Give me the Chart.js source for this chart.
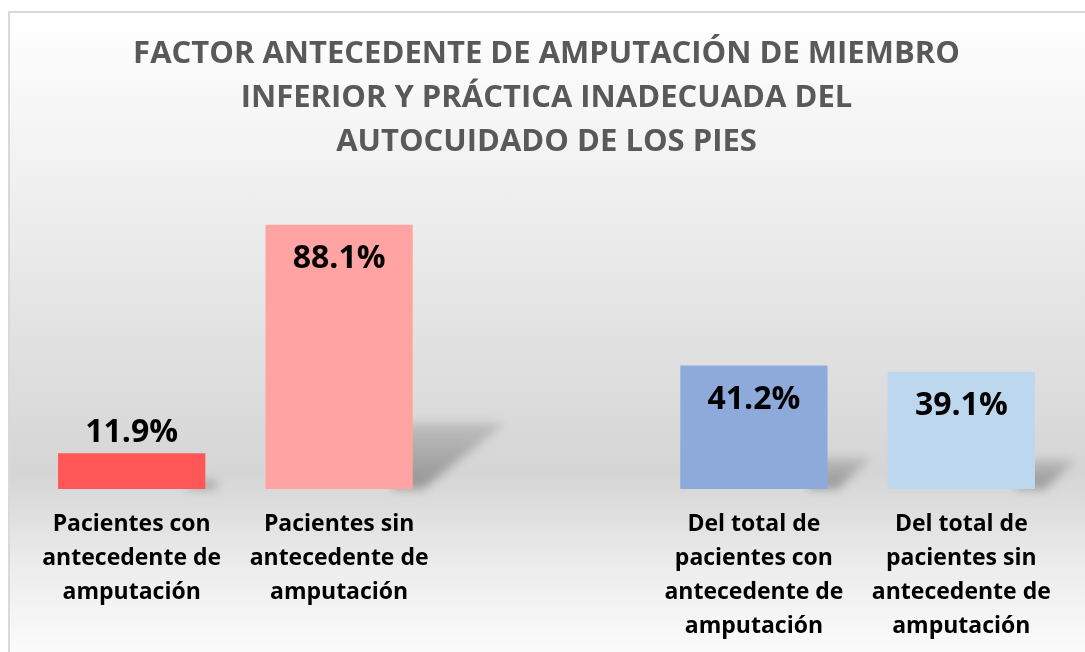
<!DOCTYPE html>
<html>
<head>
<meta charset="utf-8">
<script src="https://cdn.jsdelivr.net/npm/chart.js@4"></script>
<style>
  html, body { margin: 0; padding: 0; background: #fff; overflow: hidden; }
  .marco {
    position: absolute; left: 8px; top: 11px;
    width: 1085px; height: 650px;
    border: 2px solid #d9d9d9;
    background: linear-gradient(to bottom, #ffffff 0%, #f3f3f3 21%, #d5d5d5 71%, #ececec 85%, #fbfbfb 98%);
  }
  canvas { display: block; }
</style>
</head>
<body>
<div class="marco">
  <canvas id="grafico" width="1075" height="641"></canvas>
</div>
<script>
// Datos del gráfico
const categorias = [
  ['Pacientes con', 'antecedente de', 'amputación'],
  ['Pacientes sin', 'antecedente de', 'amputación'],
  '',
  ['Del total de', 'pacientes con', 'antecedente de', 'amputación'],
  ['Del total de', 'pacientes sin', 'antecedente de', 'amputación']
];
const porcentajes = [11.9, 88.1, null, 41.2, 39.1];
const colores = ['#ff5757', '#ffa3a3', '#ffffff', '#8eaadb', '#bdd7ee'];
const titulo = [
  'FACTOR ANTECEDENTE DE AMPUTACIÓN DE MIEMBRO',
  'INFERIOR Y PRÁCTICA INADECUADA DEL',
  'AUTOCUIDADO DE LOS PIES'
];

// Sombra en perspectiva detrás de cada barra
const sombraBarras = {
  id: 'sombraBarras',
  beforeDatasetsDraw(chart) {
    const ctx = chart.ctx;
    const meta = chart.getDatasetMeta(0);
    ctx.save();
    ctx.filter = 'blur(5px)';
    meta.data.forEach((bar, i) => {
      if (porcentajes[i] == null) return;
      const p = bar.getProps(['x', 'y', 'base', 'width'], true);
      const h = p.base - p.y;
      const right = p.x + p.width / 2;
      const g = ctx.createLinearGradient(0, p.base - h * 0.25, 0, p.base);
      g.addColorStop(0, 'rgba(0,0,0,0.12)');
      g.addColorStop(1, 'rgba(0,0,0,0.30)');
      ctx.fillStyle = g;
      ctx.beginPath();
      ctx.moveTo(right - 20, p.base);
      ctx.lineTo(right - 10, p.base - h * 0.25);
      ctx.lineTo(right + h * 0.35, p.base - h * 0.25);
      ctx.lineTo(right + 10, p.base);
      ctx.closePath();
      ctx.fill();
    });
    ctx.restore();
  }
};

// Etiquetas de porcentaje
const etiquetas = {
  id: 'etiquetas',
  afterDatasetsDraw(chart) {
    const ctx = chart.ctx;
    const meta = chart.getDatasetMeta(0);
    ctx.save();
    ctx.font = 'bold 32px "Open Sans"';
    ctx.fillStyle = '#000';
    ctx.textAlign = 'center';
    ctx.textBaseline = 'middle';
    meta.data.forEach((bar, i) => {
      const v = porcentajes[i];
      if (v == null) return;
      const h = bar.base - bar.y;
      const y = h > 60 ? bar.y + 34 : bar.y - 20;
      ctx.fillText(v.toFixed(1) + '%', bar.x, y);
    });
    ctx.restore();
  }
};

new Chart(document.getElementById('grafico'), {
  type: 'bar',
  data: {
    labels: categorias,
    datasets: [{
      data: porcentajes,
      backgroundColor: colores,
      barPercentage: 0.71,
      categoryPercentage: 1
    }]
  },
  options: {
    responsive: false,
    animation: false,
    layout: { padding: { left: 18, right: 20, top: 0, bottom: 0 } },
    plugins: {
      legend: { display: false },
      tooltip: { enabled: false },
      title: {
        display: true,
        text: titulo,
        color: '#595959',
        font: { family: 'Open Sans', size: 31, weight: 'bold', lineHeight: 1.42 },
        padding: { top: 19, bottom: 25 }
      }
    },
    scales: {
      y: {
        display: false,
        min: 0,
        max: 100
      },
      x: {
        grid: { display: false, drawTicks: false },
        border: { display: false },
        ticks: {
          color: '#000',
          maxRotation: 0,
          autoSkip: false,
          padding: 18,
          font: { family: 'Open Sans', size: 23, weight: 'bold', lineHeight: 1.48 }
        },
        afterFit(scale) { scale.height = 165; }
      }
    }
  },
  plugins: [sombraBarras, etiquetas]
});
</script>
</body>
</html>
